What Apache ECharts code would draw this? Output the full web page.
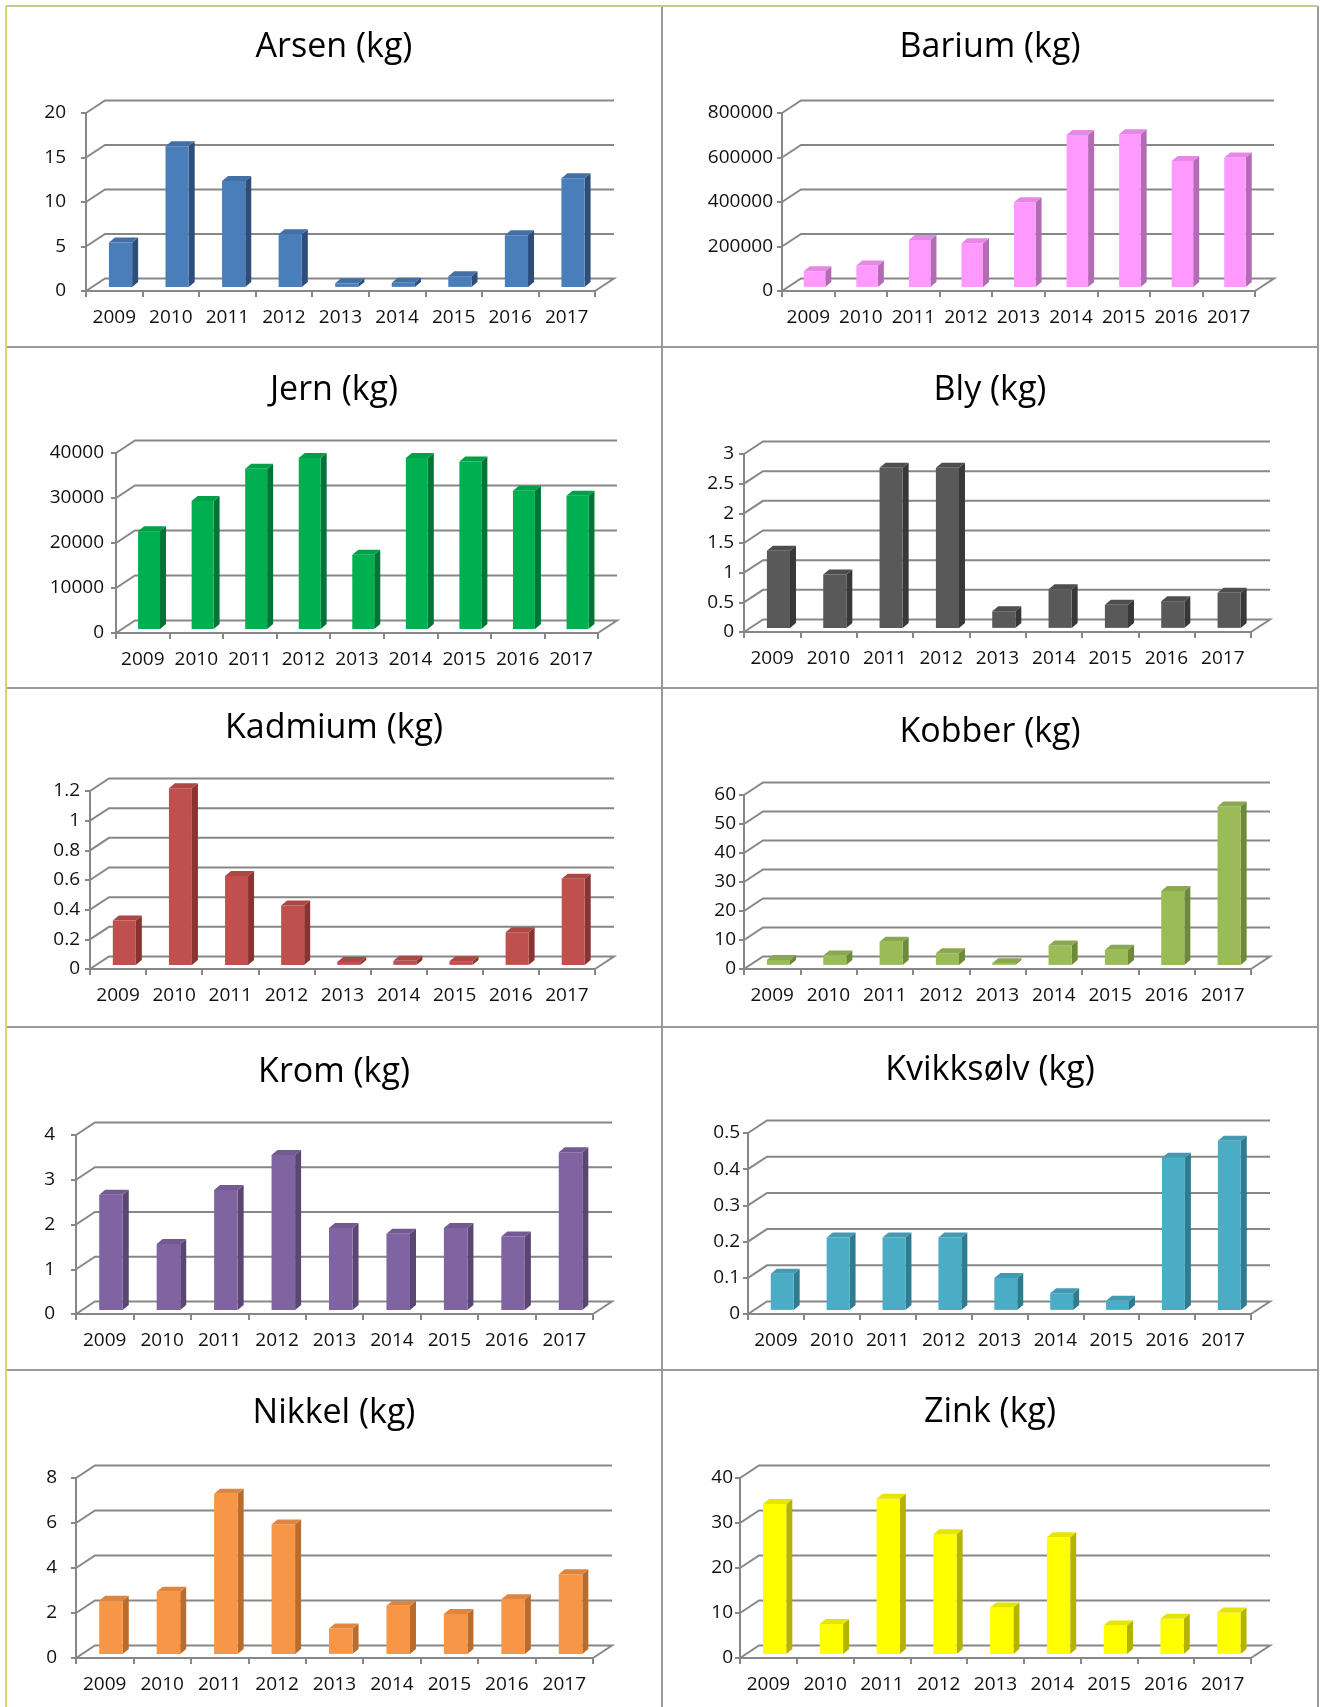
<!DOCTYPE html>
<html>
<head>
<meta charset="utf-8">
<script src="https://cdn.jsdelivr.net/npm/echarts@6/dist/echarts.min.js"></script>
<style>
  html, body { margin: 0; padding: 0; background: #ffffff; }
  #chart { width: 1320px; height: 1707px; }
</style>
</head>
<body>
<div id="chart"></div>
<script>
// Annual discharges of metals, 2009–2017 (kg)
const years = ['2009', '2010', '2011', '2012', '2013', '2014', '2015', '2016', '2017'];

const titles = ['Arsen (kg)', 'Barium (kg)', 'Jern (kg)', 'Bly (kg)', 'Kadmium (kg)',
                'Kobber (kg)', 'Krom (kg)', 'Kvikksølv (kg)', 'Nikkel (kg)', 'Zink (kg)'];

const arsen     = [5.0, 15.8, 11.9, 5.9, 0.4, 0.45, 1.2, 5.8, 12.2];
const barium    = [70000, 96000, 211000, 196000, 380000, 683000, 686000, 566000, 581000];
const jern      = [21700, 28400, 35600, 38000, 16500, 38000, 37200, 30700, 29600];
const bly       = [1.3, 0.9, 2.7, 2.7, 0.28, 0.65, 0.39, 0.45, 0.59];
const kadmium   = [0.3, 1.19, 0.6, 0.4, 0.02, 0.027, 0.025, 0.22, 0.58];
const kobber    = [1.7, 3.2, 8.0, 4.0, 0.6, 6.7, 5.2, 25.5, 54.6];
const krom      = [2.57, 1.47, 2.68, 3.46, 1.83, 1.70, 1.83, 1.64, 3.52];
const kvikksolv = [0.1, 0.2, 0.2, 0.2, 0.088, 0.046, 0.025, 0.42, 0.467];
const nikkel    = [2.36, 2.76, 7.12, 5.75, 1.13, 2.14, 1.77, 2.43, 3.54];
const zink      = [33.3, 6.65, 34.5, 26.6, 10.3, 25.9, 6.3, 7.8, 9.2];

const seriesValues = [arsen, barium, jern, bly, kadmium, kobber, krom, kvikksolv, nikkel, zink];

// value-axis range and tick step for each panel
const yMax  = [20, 800000, 40000, 3, 1.2, 60, 4, 0.5, 8, 40];
const yStep = [5, 200000, 10000, 0.5, 0.2, 10, 1, 0.1, 2, 10];

// bar colours: front face, top face, side face
const colors = [
  ['#4a7ebb', '#416fa6', '#2e4d78'],
  ['#ff99ff', '#e687e6', '#b36bb3'],
  ['#00b050', '#00a049', '#007535'],
  ['#595959', '#4e4e4e', '#383838'],
  ['#c0504d', '#ad4744', '#8a3431'],
  ['#9bbb59', '#8aa84e', '#6d8a3a'],
  ['#8064a2', '#735a92', '#5a4673'],
  ['#4bacc6', '#439ab1', '#2f7b90'],
  ['#f79646', '#de863f', '#b96c2c'],
  ['#ffff00', '#e5e500', '#b3b300']
];

// front plane of each panel (pixels), y-label gap, title position
const frames = [
  { x0: 86,  x1: 595,  y0: 113,  y1: 291,  lm: 20, tx: 334, ty: 47 },
  { x0: 782, x1: 1255, y0: 113,  y1: 291,  lm: 9,  tx: 990, ty: 47 },
  { x0: 116, x1: 598,  y0: 453,  y1: 633,  lm: 12, tx: 334, ty: 390 },
  { x0: 744, x1: 1251, y0: 454,  y1: 632,  lm: 10, tx: 990, ty: 390 },
  { x0: 90,  x1: 595,  y0: 791,  y1: 969,  lm: 10, tx: 334, ty: 728 },
  { x0: 744, x1: 1251, y0: 795,  y1: 969,  lm: 8,  tx: 990, ty: 732 },
  { x0: 76,  x1: 593,  y0: 1135, y1: 1314, lm: 21, tx: 334, ty: 1072 },
  { x0: 748, x1: 1251, y0: 1133, y1: 1314, lm: 8,  tx: 990, ty: 1070 },
  { x0: 76,  x1: 593,  y0: 1478, y1: 1658, lm: 19, tx: 334, ty: 1413 },
  { x0: 740, x1: 1251, y0: 1478, y1: 1658, lm: 7,  tx: 990, ty: 1412 }
];

// oblique projection of the plot box
const DEPTH = [19, 12.5];      // front plane -> back wall offset
const BAR_POS = 0.33;          // bars sit this far into the depth
const BAR_DEPTH = [6, 5];      // thickness of each column
const BAR_W = 0.41;            // column width as a share of the category band
const LINE = '#878787';
const TEXT = '#111111';
const FONT = "'Open Sans', 'Noto Sans', sans-serif";

function tickValues(max, step) {
  const out = [];
  const n = Math.round(max / step);
  for (let k = 0; k <= n; k++) out.push(+(k * step).toFixed(6));
  return out;
}

function renderWall(params, api) {
  const cs = params.coordSys;
  const v = api.value(1);
  const y = api.coord([0, v])[1];
  const x0 = cs.x, x1 = cs.x + cs.width;
  const pts = [[x0, y], [x0 + DEPTH[0], y - DEPTH[1]], [x1 + DEPTH[0], y - DEPTH[1]]];
  if (v === 0) pts.push([x1, y]);
  return {
    type: 'polyline',
    shape: { points: pts },
    style: { stroke: LINE, lineWidth: 2, fill: null }
  };
}

function makeBarRenderer(pal) {
  return function (params, api) {
    const i = api.value(0), v = api.value(1);
    const base = api.coord([i, 0]);
    const top = api.coord([i, v]);
    const band = api.size([1, 0])[0];
    const w = band * BAR_W;
    const ox = DEPTH[0] * BAR_POS, oy = DEPTH[1] * BAR_POS;
    const xl = base[0] - w / 2 + ox, xr = xl + w;
    const yb = base[1] - oy, yt = top[1] - oy;
    const bx = BAR_DEPTH[0], by = BAR_DEPTH[1];
    return {
      type: 'group',
      children: [
        { type: 'polygon', shape: { points: [[xr, yt], [xr + bx, yt - by], [xr + bx, yb - by], [xr, yb]] },
          style: { fill: pal[2] } },
        { type: 'rect', shape: { x: xl, y: yt, width: w, height: Math.max(yb - yt, 0) },
          style: { fill: pal[0] } },
        { type: 'polygon', shape: { points: [[xl, yt], [xl + bx, yt - by], [xr + bx, yt - by], [xr, yt]] },
          style: { fill: pal[1] } }
      ]
    };
  };
}

const grids = [], xAxes = [], yAxes = [], series = [], graphics = [];

frames.forEach((f, p) => {
  grids.push({ left: f.x0, top: f.y0, width: f.x1 - f.x0, height: f.y1 - f.y0 });
  xAxes.push({
    type: 'category', gridIndex: p, data: years,
    axisLine: { show: true, lineStyle: { color: LINE, width: 2 } },
    axisTick: { show: true, length: 6, interval: 0, lineStyle: { color: LINE, width: 2 } },
    axisLabel: { interval: 0, margin: 17, color: TEXT, fontFamily: FONT, fontSize: 19 },
    splitLine: { show: false }
  });
  yAxes.push({
    type: 'value', gridIndex: p, min: 0, max: yMax[p], interval: yStep[p],
    axisLine: { show: true, lineStyle: { color: LINE, width: 2 } },
    axisTick: { show: true, length: 5, lineStyle: { color: LINE, width: 2 } },
    axisLabel: { margin: f.lm, color: TEXT, fontFamily: FONT, fontSize: 19,
                 formatter: v => String(+v.toFixed(6)) },
    splitLine: { show: false }
  });
  series.push({
    type: 'custom', name: 'wall' + p, xAxisIndex: p, yAxisIndex: p,
    coordinateSystem: 'cartesian2d', clip: false, silent: true, z: 1,
    data: tickValues(yMax[p], yStep[p]).map(v => [0, v]),
    renderItem: renderWall
  });
  series.push({
    type: 'custom', name: titles[p], xAxisIndex: p, yAxisIndex: p,
    coordinateSystem: 'cartesian2d', clip: false, silent: true, z: 3,
    data: seriesValues[p].map((v, i) => [i, v]),
    renderItem: makeBarRenderer(colors[p])
  });
  graphics.push({
    type: 'text', x: f.tx, y: f.ty, z: 10,
    style: { text: titles[p], fill: '#000', font: "34px 'Open Sans', 'Noto Sans', sans-serif",
             align: 'center', verticalAlign: 'middle' }
  });
});

// panel frames
const BORDER = '#9a9a9a';
const hLines = [347, 688, 1027, 1370];
hLines.forEach(y => graphics.push({
  type: 'line', shape: { x1: 6, y1: y, x2: 1318, y2: y }, style: { stroke: BORDER, lineWidth: 2 }
}));
graphics.push({ type: 'line', shape: { x1: 662, y1: 6, x2: 662, y2: 1707 }, style: { stroke: BORDER, lineWidth: 2 } });
graphics.push({ type: 'line', shape: { x1: 1318, y1: 6, x2: 1318, y2: 1707 }, style: { stroke: BORDER, lineWidth: 2 } });
graphics.push({ type: 'line', shape: { x1: 6, y1: 6, x2: 1318, y2: 6 }, style: { stroke: '#c9c79a', lineWidth: 2 } });
graphics.push({ type: 'line', shape: { x1: 6, y1: 6, x2: 6, y2: 1707 }, style: { stroke: '#dcd85a', lineWidth: 2 } });

const chart = echarts.init(document.getElementById('chart'), null, { renderer: 'canvas' });
chart.setOption({
  backgroundColor: '#ffffff',
  animation: false,
  grid: grids,
  xAxis: xAxes,
  yAxis: yAxes,
  series: series,
  graphic: graphics
});
</script>
</body>
</html>
